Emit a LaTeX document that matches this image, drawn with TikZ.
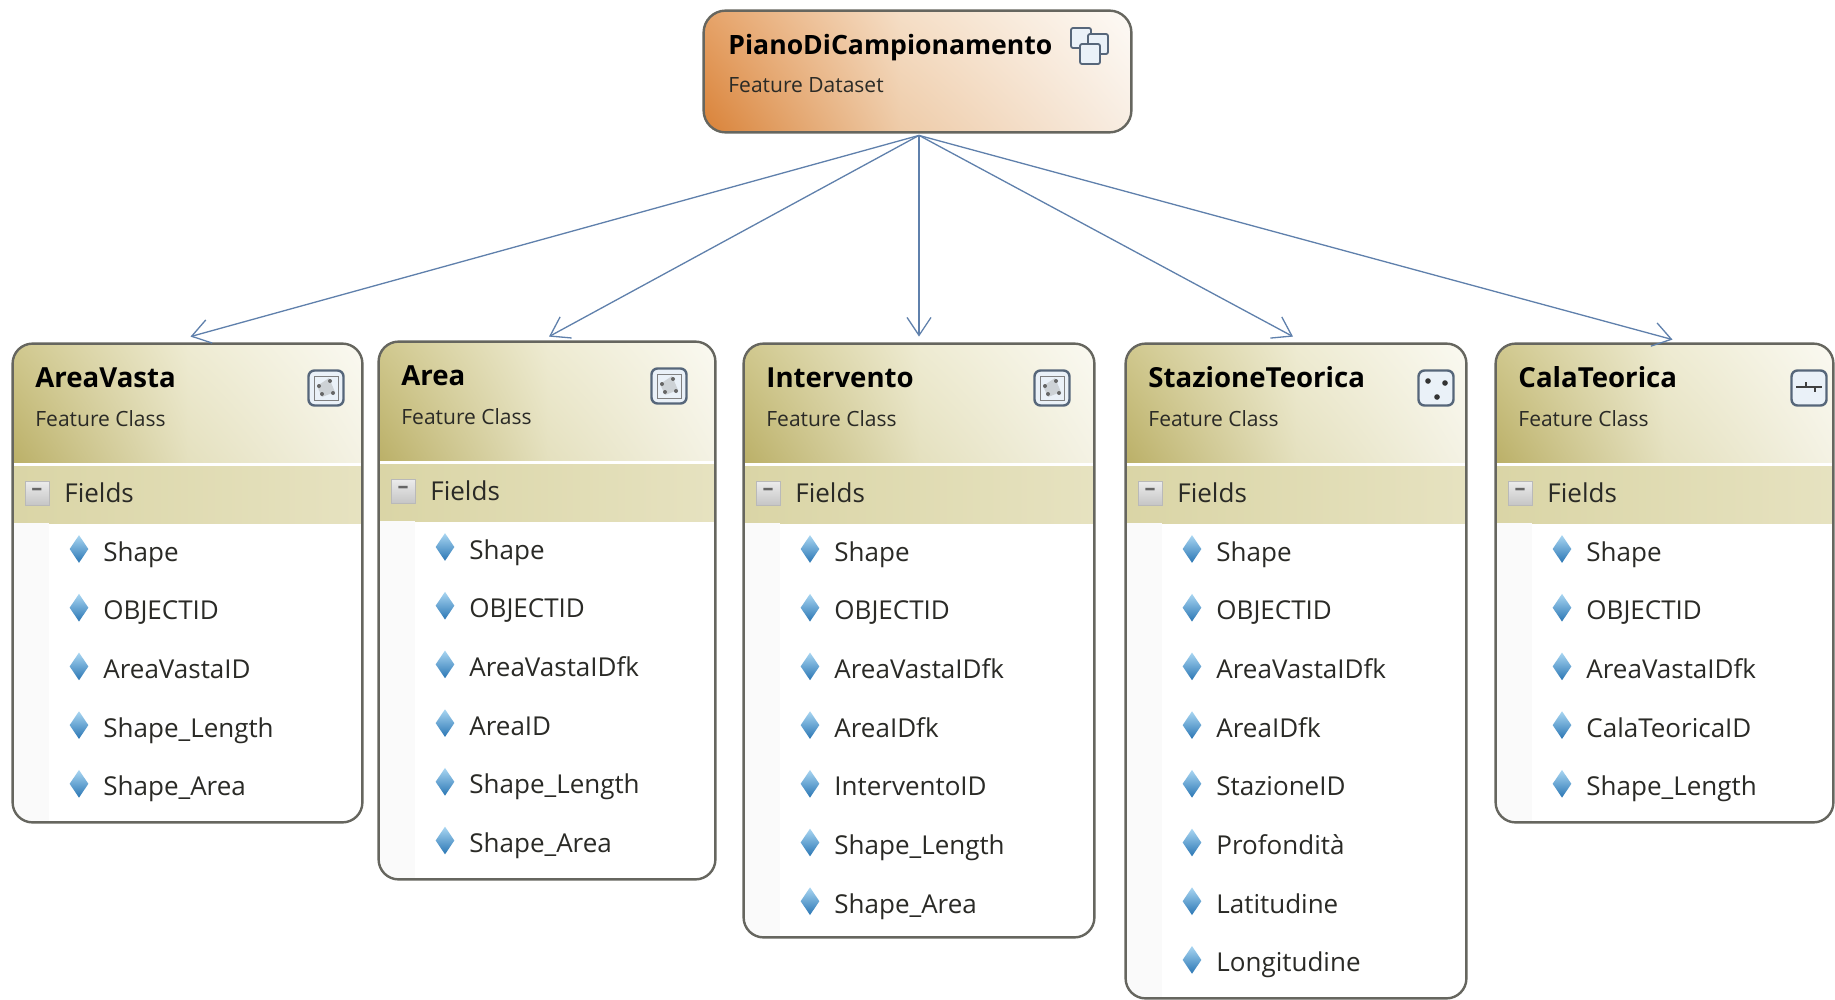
\documentclass[tikz,border=0pt]{standalone}
\usepackage{fontspec}
\setmainfont{Open Sans}
\usetikzlibrary{arrows.meta,shapes.geometric,calc,shadings}
\definecolor{frameC}{HTML}{66665F}
\definecolor{linkC}{HTML}{5F80AC}
\definecolor{textC}{HTML}{2A2A26}
\definecolor{hUL}{HTML}{D0C88E}
\definecolor{hLL}{HTML}{BBB068}
\definecolor{hUM}{HTML}{EEEBD2}
\definecolor{hLM}{HTML}{E4E0BE}
\definecolor{hUR}{HTML}{FAF9F1}
\definecolor{hLR}{HTML}{F4F2E4}
\definecolor{bandL}{HTML}{DAD5A6}
\definecolor{bandR}{HTML}{E6E2C0}
\definecolor{tUL}{HTML}{E6A369}
\definecolor{tLL}{HTML}{D98238}
\definecolor{tUM}{HTML}{F5DEC6}
\definecolor{tLM}{HTML}{EECBA8}
\definecolor{tUR}{HTML}{FDFAF6}
\definecolor{tLR}{HTML}{F8EDE2}
\definecolor{gemT}{HTML}{A9D6F2}
\definecolor{gemB}{HTML}{2A76B4}
\definecolor{iconC}{HTML}{56667A}
\definecolor{iconF}{HTML}{EAF1F8}
\tikzset{
  x=0.5pt,y=-0.5pt,
  frame/.style={draw=frameC,line width=1.2pt,rounded corners=10pt},
  conn/.style={draw=linkC,line width=0.65pt,-{Straight Barb[length=9pt,width=12pt,line width=0.65pt]}},
  title/.style={anchor=base west,inner sep=0pt,font=\fontsize{13.8}{16}\selectfont\bfseries,text=black},
  subtitle/.style={anchor=base west,inner sep=0pt,font=\fontsize{10.5}{13}\selectfont,text=textC},
  fieldtxt/.style={anchor=base west,inner sep=0pt,font=\fontsize{13}{16}\selectfont,text=textC},
  gem/.style={diamond,minimum width=9.5pt,minimum height=14pt,inner sep=0pt,top color=gemT,bottom color=gemB},
  iconb/.style={draw=iconC,line width=1.2pt,rounded corners=3pt,fill=iconF,minimum size=17.5pt,inner sep=0pt},
  dsbox/.style={draw=iconC,line width=0.9pt,fill=iconF,rounded corners=1pt,minimum size=10pt,inner sep=0pt},
  minusb/.style={draw=gray!55,line width=0.3pt,top color=gray!15,bottom color=gray!45,minimum size=12pt,inner sep=0pt,font=\fontsize{11}{11}\selectfont\bfseries},
}
% id, xleft, xright, ytop, ybottom, title, icon kind, icon x, fields
\newcommand{\fcbox}[9]{%
  \pgfmathsetmacro{\bw}{(#3-#2)/2}\pgfmathsetmacro{\bh}{(#5-#4)/2}%
  \pgfmathsetmacro{\bcx}{(#2+#3)/2}\pgfmathsetmacro{\bcy}{(#4+#5)/2}%
  \pgfmathsetmacro{\bmx}{#2+0.5*(#3-#2)}%
  \node[fill=white,rounded corners=10pt,minimum width=\bw pt,minimum height=\bh pt,inner sep=0pt] (#1) at (\bcx,\bcy) {};
  \begin{scope}
    \clip[rounded corners=10pt] (#2,#4) rectangle (#3,#5);
    \shade[upper left=hUL,lower left=hLL,upper right=hUM,lower right=hLM] (#2,#4) rectangle (\bmx+0.5,#4+118);
    \shade[upper left=hUM,lower left=hLM,upper right=hUR,lower right=hLR] (\bmx,#4) rectangle (#3,#4+118);
    \shade[left color=bandL,right color=bandR] (#2,#4+122) rectangle (#3,#4+179);
    \fill[black!2] (#2,#4+179) rectangle (#2+36,#5);
  \end{scope}
  \draw[frame] (#1.south west) rectangle (#1.north east);
  \node[title] (#1-t) at (#2+22,#4+43) {#6};
  \node[subtitle] (#1-s) at (#2+22,#4+82) {Feature Class};
  \node[minusb] (#1-m) at (#2+24,#4+149) {\textcolor{black!60}{\raisebox{0.2ex}{–}}};
  \node[fieldtxt] (#1-h) at (#2+51,#4+158) {Fields};
  \node[iconb] (#1-i) at (#8,#4+44) {};
  \csname icon#7\endcsname{#1-i}
  \foreach \f [count=\k] in {#9}{
    \node[gem] (#1-g\k) at (#2+66,#4+205+58.7*\k-58.7) {};
    \node[fieldtxt] (#1-f\k) at (#2+90,#4+217+58.7*\k-58.7) {\f};
  }
}
\newcommand{\iconpoly}[1]{%
  \draw[black!50,line width=0.5pt] ($(#1)+(-12,-12)$) rectangle ($(#1)+(12,12)$);
  \fill[black!40,opacity=.35] ($(#1)+(-9,-2)$) -- ($(#1)+(3,-10)$) -- ($(#1)+(9,4)$) -- ($(#1)+(-4,9)$) -- cycle;
  \foreach \px/\py in {-7/-2,4/-7,-4/6,7/5}{\fill[black!60] ($(#1)+(\px,\py)$) circle (1pt);}
}
\newcommand{\iconpts}[1]{%
  \foreach \px/\py in {-8/-7,9/-5,1/9}{\fill[black!80] ($(#1)+(\px,\py)$) circle (1.4pt);}
}
\newcommand{\iconline}[1]{%
  \draw[black!75,line width=0.7pt] ($(#1)+(-13,-1)$) -- ($(#1)+(13,-1)$);
  \draw[black!75,line width=0.7pt] ($(#1)+(-3,-6)$) -- ($(#1)+(-3,-1)$) ($(#1)+(6,-1)$) -- ($(#1)+(6,4)$);
}
\begin{document}
\begin{tikzpicture}
\useasboundingbox (0,0) rectangle (1835,1000);
\fill[white] (0,0) rectangle (1835,1000);
% top node
\node[fill=white,rounded corners=11pt,minimum width=213.5pt,minimum height=60.5pt,inner sep=0pt] (top) at (917.5,71.5) {};
\begin{scope}
\clip[rounded corners=11pt] (704,11) rectangle (1131,132);
\shade[upper left=tUL,lower left=tLL,upper right=tUM,lower right=tLM] (704,11) rectangle (900.5,132);
\shade[upper left=tUM,lower left=tLM,upper right=tUR,lower right=tLR] (900,11) rectangle (1131,132);
\end{scope}
\draw[frame,rounded corners=11pt] (top.south west) rectangle (top.north east);
\node[title,font=\fontsize{13.3}{16}\selectfont\bfseries] (topt) at (728,55) {PianoDiCampionamento};
\node[subtitle] (tops) at (728,93) {Feature Dataset};
\foreach \dx/\dy [count=\n] in {1081/38,1098/44,1090/54}{
  \node[dsbox] (dsq\n) at (\dx,\dy) {};
}
% boxes
\fcbox{av}{13}{362}{344}{822}{AreaVasta}{poly}{326}{Shape,OBJECTID,AreaVastaID,Shape\_Length,Shape\_Area}
\fcbox{ar}{379}{715}{342}{879}{Area}{poly}{669}{Shape,OBJECTID,AreaVastaIDfk,AreaID,Shape\_Length,Shape\_Area}
\fcbox{iv}{744}{1094}{344}{937}{Intervento}{poly}{1052}{Shape,OBJECTID,AreaVastaIDfk,AreaIDfk,InterventoID,Shape\_Length,Shape\_Area}
\fcbox{st}{1126}{1466}{344}{998}{StazioneTeorica}{pts}{1436}{Shape,OBJECTID,AreaVastaIDfk,AreaIDfk,StazioneID,Profondità,Latitudine,Longitudine}
\fcbox{ca}{1496}{1833}{344}{822}{CalaTeorica}{line}{1809}{Shape,OBJECTID,AreaVastaIDfk,CalaTeoricaID,Shape\_Length}
% connectors
\coordinate (apex) at ($(top.south)+(1.5,3)$);
\draw[conn] (apex) -- ($(av.north)+(3,-7)$);
\draw[conn] (apex) -- ($(ar.north)+(2,-5)$);
\draw[conn] (apex) -- ($(iv.north)+(0,-7)$);
\draw[conn] (apex) -- ($(st.north)+(-3,-7)$);
\draw[conn] (apex) -- ($(ca.north)+(8,-4)$);
\end{tikzpicture}
\end{document}
